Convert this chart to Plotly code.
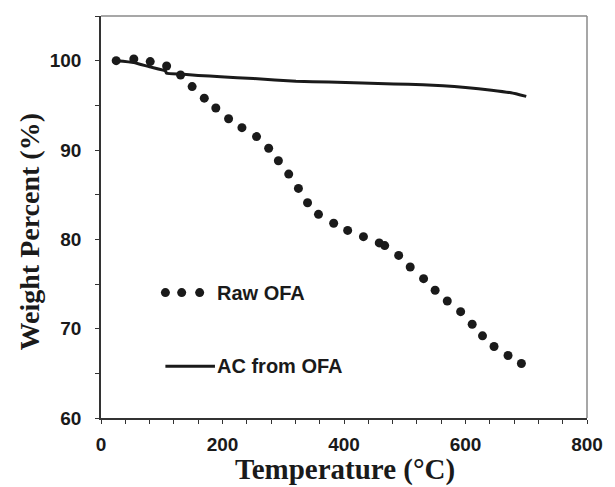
import plotly.graph_objects as go

# Raw OFA (dotted series)
raw_temp = [25, 54, 81, 108, 131, 150, 170, 189, 210, 232, 256, 276, 292, 309, 325,
            340, 358, 383, 406, 432, 458, 467, 490, 509, 531, 550, 570, 592, 611,
            628, 647, 670, 692]
raw_wt = [100.0, 100.2, 99.9, 99.4, 98.4, 97.1, 95.8, 94.7, 93.5, 92.5, 91.5, 90.2,
          88.8, 87.3, 85.7, 84.1, 82.8, 81.8, 81.0, 80.3, 79.6, 79.3, 78.2, 76.9,
          75.6, 74.3, 73.1, 71.9, 70.5, 69.2, 68.0, 67.0, 66.1]

# AC from OFA (solid line)
ac_temp = [25, 54, 80, 106, 108, 131, 160, 197, 251, 321, 375, 430, 482, 530, 563,
           600, 643, 675, 700]
ac_wt = [100.0, 99.8, 99.3, 98.85, 98.6, 98.5, 98.35, 98.2, 98.0, 97.7, 97.6, 97.5,
         97.4, 97.3, 97.2, 97.0, 96.7, 96.4, 96.0]

legend_labels = ["Raw OFA", "AC from OFA"]

INK = "#1a1a1a"
SANS = "Liberation Sans, Arial, sans-serif"
SERIF = "Liberation Serif, Times New Roman, serif"

fig = go.Figure()
fig.add_trace(go.Scatter(x=ac_temp, y=ac_wt, mode="lines",
                         line=dict(color=INK, width=3, shape="spline", smoothing=0.4),
                         name=legend_labels[1], showlegend=False))
fig.add_trace(go.Scatter(x=raw_temp, y=raw_wt, mode="markers",
                         marker=dict(color=INK, size=9, line=dict(width=0)),
                         name=legend_labels[0], showlegend=False))

axis_common = dict(
    showgrid=False, zeroline=False, showline=True, linecolor="#333333", linewidth=1.5,
    ticks="outside", ticklen=4, tickwidth=1.2, tickcolor="#333333",
    tickfont=dict(family=SANS, size=19, color=INK, weight="bold"),
    ticklabeloverflow="allow",
)
fig.update_xaxes(range=[0, 800], tickvals=[0, 200, 400, 600, 800],
                 minor=dict(dtick=40, ticks="outside", ticklen=4, tickwidth=1.2,
                            tickcolor="#333333"),
                 ticklabelstandoff=4,
                 **axis_common)
fig.update_yaxes(range=[60, 105], tickvals=[60, 70, 80, 90, 100],
                 minor=dict(dtick=5, ticks="outside", ticklen=4, tickwidth=1.2,
                            tickcolor="#333333"),
                 ticklabelstandoff=10,
                 **axis_common)

shapes = [
    # top and right frame
    dict(type="line", xref="paper", yref="paper", x0=0, x1=1, y0=1, y1=1,
         line=dict(color="#8a8a8a", width=1.5)),
    dict(type="line", xref="paper", yref="paper", x0=1, x1=1, y0=0, y1=1,
         line=dict(color="#8a8a8a", width=1.5)),
    # legend key: solid line
    dict(type="line", xref="paper", yref="paper", x0=0.1325, x1=0.2345, y0=0.129, y1=0.129,
         line=dict(color=INK, width=3)),
]
for px in [0.1325, 0.166, 0.203]:
    shapes.append(dict(type="circle", xref="paper", yref="paper",
                       xsizemode="pixel", ysizemode="pixel",
                       xanchor=px, yanchor=0.312, x0=-4.5, x1=4.5, y0=-4.5, y1=4.5,
                       fillcolor=INK, line=dict(width=0)))

annotations = [
    dict(text="<b>" + legend_labels[0] + "</b>", xref="paper", yref="paper", x=0.235, y=0.312,
         xanchor="left", yanchor="middle", showarrow=False,
         font=dict(family=SANS, size=20, color=INK)),
    dict(text="<b>" + legend_labels[1] + "</b>", xref="paper", yref="paper", x=0.235, y=0.129,
         xanchor="left", yanchor="middle", showarrow=False,
         font=dict(family=SANS, size=20, color=INK)),
    dict(text="<b>Temperature (°C)</b>", xref="paper", yref="paper", x=0.502, y=-0.128,
         xanchor="center", yanchor="middle", showarrow=False,
         font=dict(family=SERIF, size=29, color=INK)),
    dict(text="<b>Weight Percent (%)</b>", xref="paper", yref="paper", x=-0.147, y=0.463,
         xanchor="center", yanchor="middle", showarrow=False, textangle=-90,
         font=dict(family=SERIF, size=28, color=INK)),
]

fig.update_layout(
    width=615, height=487,
    margin=dict(l=101, r=18, t=16, b=69),
    paper_bgcolor="white", plot_bgcolor="white",
    shapes=shapes, annotations=annotations,
    font=dict(family=SANS, color=INK),
)

fig.write_html("out.html")
